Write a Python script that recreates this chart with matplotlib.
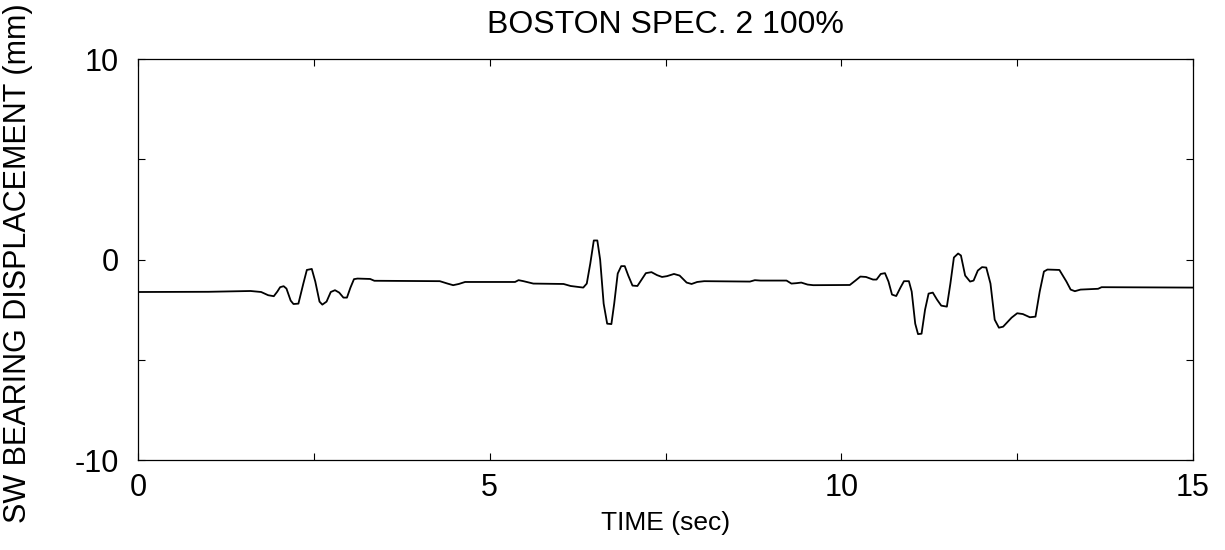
import matplotlib
matplotlib.use('Agg')
import matplotlib.pyplot as plt
from matplotlib.ticker import MultipleLocator

plt.rcParams['font.family'] = ['Liberation Sans', 'DejaVu Sans']
plt.rcParams['axes.unicode_minus'] = False

time_s = [0, 1.0, 1.6, 1.75, 1.85, 1.93, 1.98, 2.02, 2.07, 2.11, 2.17, 2.21, 2.28,
          2.35, 2.40, 2.47, 2.52, 2.58, 2.62, 2.68, 2.74, 2.80, 2.86, 2.92, 2.97,
          3.02, 3.07, 3.12, 3.30, 3.36, 4.29, 4.40, 4.48, 4.56, 4.65, 5.36, 5.41,
          5.48, 5.62, 6.05, 6.15, 6.33, 6.38, 6.43, 6.48, 6.53, 6.57, 6.62, 6.67,
          6.73, 6.77, 6.82, 6.87, 6.92, 6.97, 7.03, 7.10, 7.16, 7.22, 7.30, 7.38,
          7.45, 7.52, 7.62, 7.70, 7.80, 7.87, 7.95, 8.05, 8.70, 8.77, 8.85, 9.22,
          9.29, 9.36, 9.43, 9.52, 9.60, 10.12, 10.20, 10.27, 10.35, 10.45, 10.50,
          10.56, 10.62, 10.67, 10.72, 10.78, 10.84, 10.89, 10.96, 11.00, 11.05,
          11.09, 11.14, 11.19, 11.24, 11.30, 11.36, 11.42, 11.50, 11.55, 11.60,
          11.66, 11.70, 11.76, 11.83, 11.88, 11.94, 12.00, 12.06, 12.12, 12.18,
          12.24, 12.30, 12.42, 12.50, 12.58, 12.68, 12.76, 12.82, 12.88, 12.93,
          13.10, 13.20, 13.26, 13.32, 13.40, 13.65, 13.70, 15.0]
disp_mm = [-1.62, -1.61, -1.57, -1.62, -1.78, -1.83, -1.6, -1.38, -1.33, -1.45,
           -2.05, -2.22, -2.2, -1.2, -0.52, -0.47, -1.1, -2.1, -2.25, -2.1, -1.62,
           -1.53, -1.65, -1.9, -1.9, -1.4, -0.98, -0.95, -0.97, -1.06, -1.08, -1.2,
           -1.28, -1.22, -1.12, -1.12, -1.03, -1.08, -1.2, -1.22, -1.32, -1.4, -1.2,
           -0.2, 0.95, 0.95, 0.0, -2.2, -3.2, -3.22, -2.2, -0.7, -0.33, -0.33, -0.8,
           -1.3, -1.32, -1.0, -0.68, -0.63, -0.78, -0.87, -0.83, -0.72, -0.8, -1.15,
           -1.22, -1.12, -1.08, -1.1, -1.03, -1.05, -1.05, -1.2, -1.18, -1.15,
           -1.25, -1.28, -1.27, -1.05, -0.85, -0.87, -1.0, -1.0, -0.72, -0.68,
           -1.1, -1.75, -1.82, -1.4, -1.08, -1.08, -1.6, -3.2, -3.72, -3.7, -2.5,
           -1.7, -1.65, -2.0, -2.3, -2.35, -1.2, 0.1, 0.3, 0.2, -0.8, -1.1, -1.05,
           -0.55, -0.38, -0.4, -1.2, -3.0, -3.4, -3.35, -2.9, -2.68, -2.72, -2.88,
           -2.85, -1.6, -0.6, -0.5, -0.52, -1.1, -1.5, -1.58, -1.5, -1.46, -1.38,
           -1.40]

x_major = [0, 5, 10, 15]
y_major = [-10, 0, 10]

fig = plt.figure(figsize=(12.25, 5.5), dpi=100)
ax = fig.add_axes([0.1127, 0.1636, 0.8612, 0.7291])

ax.plot(time_s, disp_mm, color='black', linewidth=1.3)

ax.set_xlim(0, 15)
ax.set_ylim(-10, 10)
ax.set_xticks(x_major)
ax.set_yticks(y_major)
ax.xaxis.set_minor_locator(MultipleLocator(2.5))
ax.yaxis.set_minor_locator(MultipleLocator(5))
ax.tick_params(which='both', direction='in', top=True, right=True,
               length=5, width=0.8, labelsize=22)
ax.tick_params(axis='x', pad=9)
ax.tick_params(axis='y', pad=14)
for s in ax.spines.values():
    s.set_linewidth(0.9)

ax.set_title('BOSTON SPEC. 2 100%', fontsize=23, pad=19)
ax.set_xlabel('TIME (sec)', fontsize=19, labelpad=6)
ax.set_ylabel('SW BEARING DISPLACEMENT (mm)', fontsize=22)
ax.yaxis.set_label_coords(-0.1, 0.49)

fig.savefig('out.png', dpi=100)
